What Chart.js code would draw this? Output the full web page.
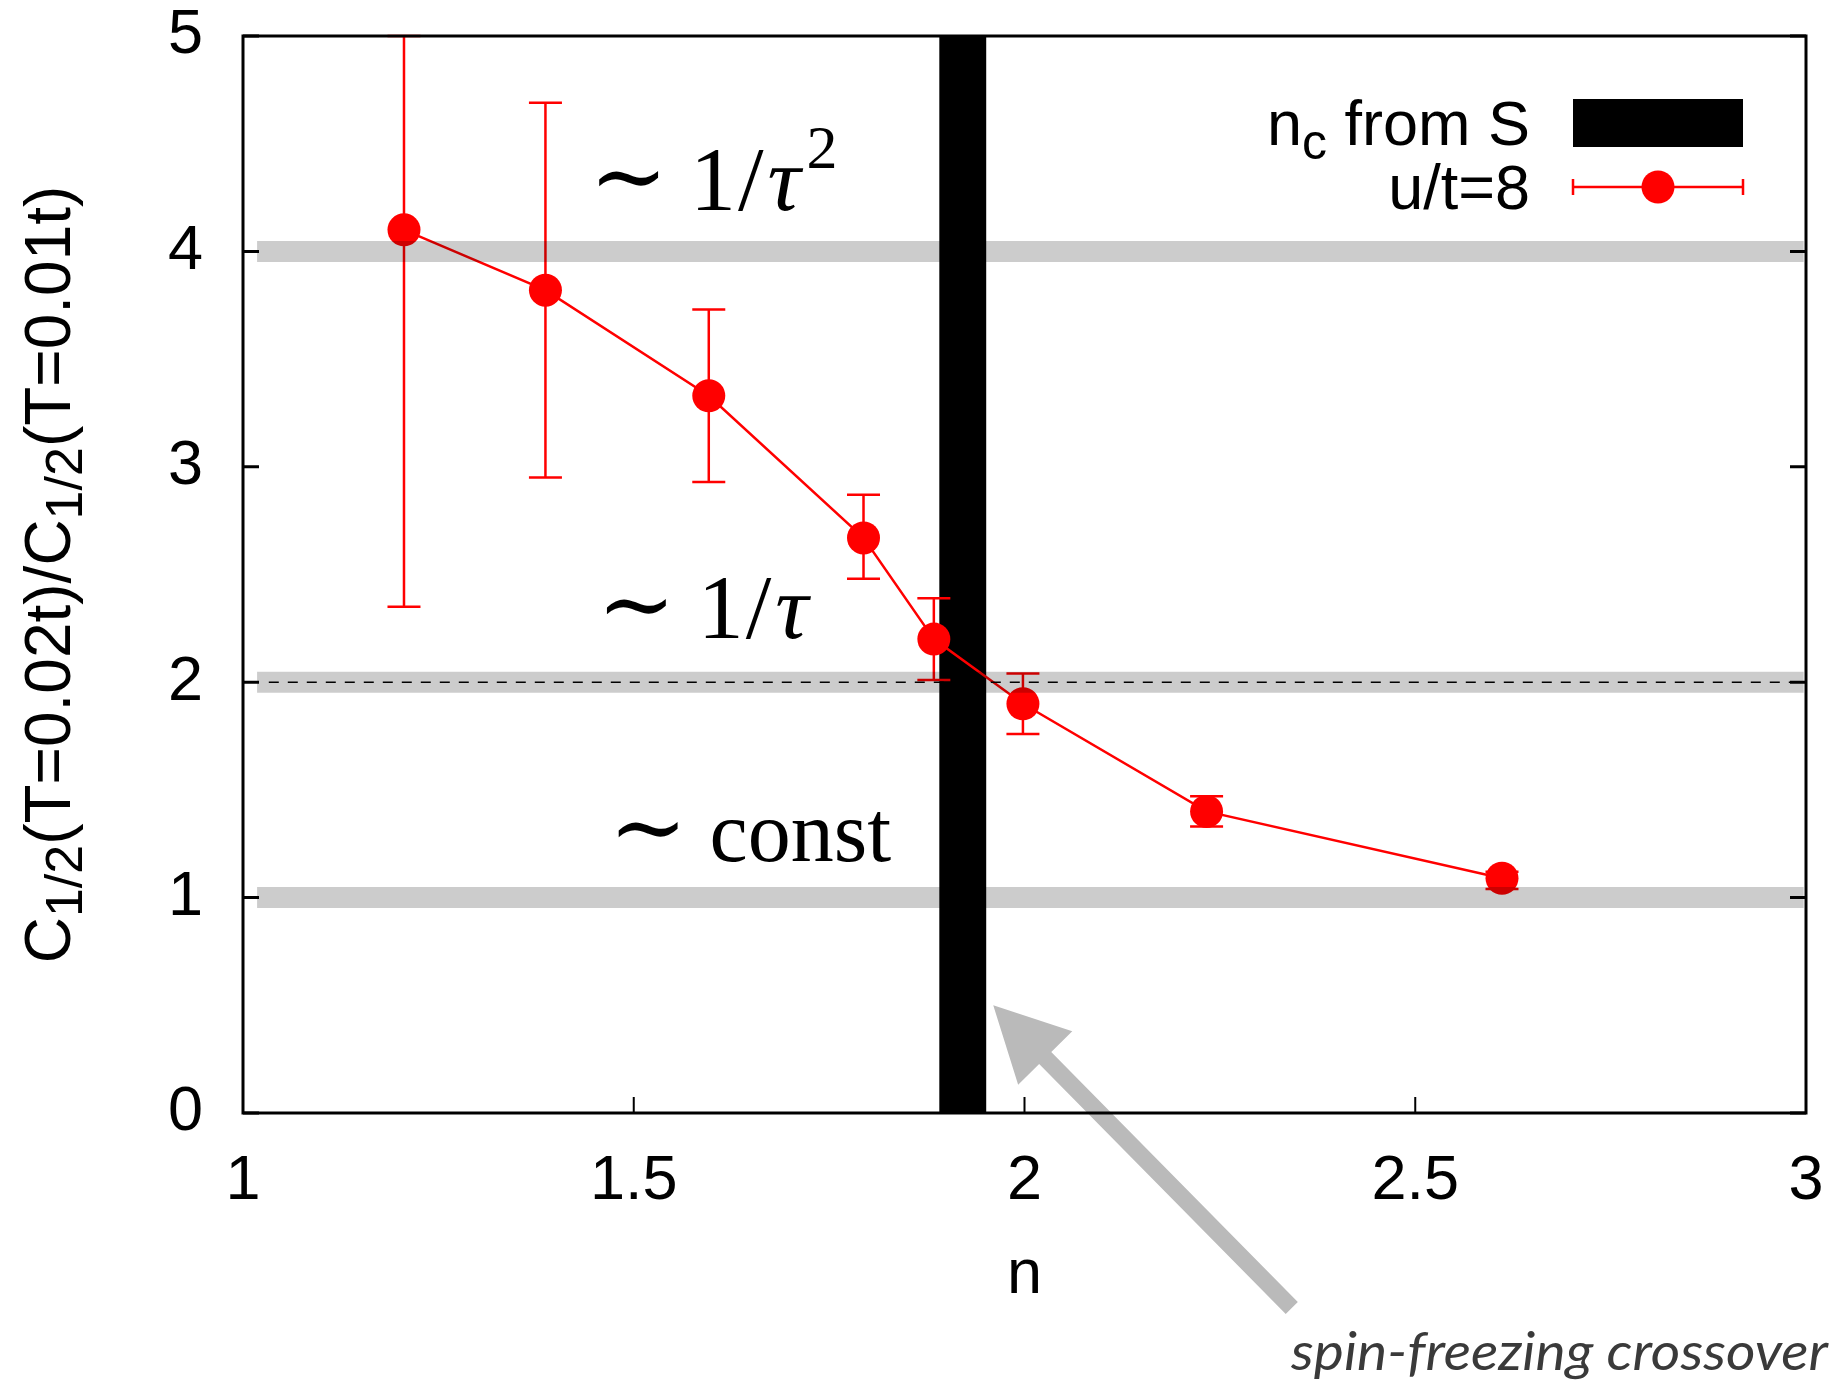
<!DOCTYPE html>
<html>
<head>
<meta charset="utf-8">
<title>C1/2 ratio vs n</title>
<script src="https://cdn.jsdelivr.net/npm/chart.js@4.4.1/dist/chart.umd.min.js"></script>
<style>
  html, body { margin: 0; padding: 0; background: #fff; }
  canvas { display: block; }
</style>
</head>
<body>
<canvas id="chart" width="1837" height="1384"></canvas>
<script>
// data
const fillingN = [1.206, 1.387, 1.596, 1.794, 1.884, 1.998, 2.233, 2.611];
const ratio = [4.10, 3.82, 3.33, 2.67, 2.20, 1.90, 1.40, 1.09];
const ratioLow = [2.35, 2.95, 2.93, 2.48, 2.01, 1.76, 1.33, 1.04];
const ratioHigh = [5.00, 4.69, 3.73, 2.87, 2.39, 2.04, 1.47, 1.12];

const bandLevels = [4, 2, 1];          // ~1/tau^2, ~1/tau, ~const
const bandRange = [1.018, 2.997];
const dashLevel = 2;
const dashRange = [1.033, 2.99];
const crossoverRange = [1.891, 1.951]; // n_c from S

const xTicks = [1, 1.5, 2, 2.5, 3];
const yTicks = [0, 1, 2, 3, 4, 5];

const SANS = '"Liberation Sans", Arial, sans-serif';
const SERIF = '"Liberation Serif", "DejaVu Serif", serif';

function runsWidth(ctx, runs) {
  let w = 0;
  for (const r of runs) {
    ctx.font = r.font;
    w += ctx.measureText(r.text).width + (r.gap || 0);
  }
  return w;
}

function drawRuns(ctx, runs, x, y) {
  let cx = x;
  for (const r of runs) {
    ctx.font = r.font;
    ctx.fillText(r.text, cx, y + (r.dy || 0));
    cx += ctx.measureText(r.text).width + (r.gap || 0);
  }
}

// scales should not push the plot area around
function noPad(s) {
  s.paddingTop = 0; s.paddingBottom = 0; s.paddingLeft = 0; s.paddingRight = 0;
}

// black vertical band, under everything else
const crossoverBar = {
  id: 'crossoverBar',
  beforeDatasetsDraw(chart) {
    const { ctx, chartArea, scales } = chart;
    const x0 = scales.x.getPixelForValue(crossoverRange[0]);
    const x1 = scales.x.getPixelForValue(crossoverRange[1]);
    ctx.save();
    ctx.fillStyle = '#000';
    ctx.fillRect(x0, chartArea.top, x1 - x0, chartArea.bottom - chartArea.top);
    ctx.restore();
  }
};

// error bars drawn just before the red series
const errorBars = {
  id: 'errorBars',
  beforeDatasetDraw(chart, args) {
    if (chart.data.datasets[args.index].label !== 'u/t=8') return;
    const { ctx, chartArea, scales } = chart;
    ctx.save();
    ctx.beginPath();
    ctx.rect(chartArea.left, chartArea.top - 2, chartArea.right - chartArea.left, chartArea.bottom - chartArea.top + 4);
    ctx.clip();
    ctx.strokeStyle = '#ff0000';
    ctx.lineWidth = 2.5;
    const cap = 16.5;
    fillingN.forEach((n, i) => {
      const px = scales.x.getPixelForValue(n);
      const lo = scales.y.getPixelForValue(ratioLow[i]);
      const hi = scales.y.getPixelForValue(ratioHigh[i]);
      ctx.beginPath();
      ctx.moveTo(px, lo); ctx.lineTo(px, hi);
      ctx.moveTo(px - cap, lo); ctx.lineTo(px + cap, lo);
      ctx.moveTo(px - cap, hi); ctx.lineTo(px + cap, hi);
      ctx.stroke();
    });
    ctx.restore();
  }
};

const decorations = {
  id: 'decorations',
  afterDatasetsDraw(chart) {
    const { ctx, chartArea: a, scales } = chart;
    const xs = scales.x, ys = scales.y;
    ctx.save();

    // arrow pointing at the crossover
    const tip = { x: xs.getPixelForValue(1.960), y: ys.getPixelForValue(0.50) };
    const tail = { x: xs.getPixelForValue(2.342), y: ys.getPixelForValue(-0.905) };
    const dx = tail.x - tip.x, dy = tail.y - tip.y;
    const len = Math.hypot(dx, dy);
    const ux = dx / len, uy = dy / len, nx = -uy, ny = ux;
    const headLen = 74, headHalf = 38, shaftHalf = 8.5;
    ctx.fillStyle = '#bababa';
    ctx.beginPath();
    ctx.moveTo(tip.x, tip.y);
    ctx.lineTo(tip.x + ux * headLen + nx * headHalf, tip.y + uy * headLen + ny * headHalf);
    ctx.lineTo(tip.x + ux * headLen + nx * shaftHalf, tip.y + uy * headLen + ny * shaftHalf);
    ctx.lineTo(tail.x + nx * shaftHalf, tail.y + ny * shaftHalf);
    ctx.lineTo(tail.x - nx * shaftHalf, tail.y - ny * shaftHalf);
    ctx.lineTo(tip.x + ux * headLen - nx * shaftHalf, tip.y + uy * headLen - ny * shaftHalf);
    ctx.lineTo(tip.x + ux * headLen - nx * headHalf, tip.y + uy * headLen - ny * headHalf);
    ctx.closePath();
    ctx.fill();

    // frame and inward ticks
    ctx.strokeStyle = '#000';
    ctx.lineWidth = 3;
    ctx.strokeRect(a.left, a.top, a.right - a.left, a.bottom - a.top);
    const tk = 16;
    ctx.beginPath();
    yTicks.forEach(v => {
      const py = ys.getPixelForValue(v);
      ctx.moveTo(a.left, py); ctx.lineTo(a.left + tk, py);
      ctx.moveTo(a.right, py); ctx.lineTo(a.right - tk, py);
    });
    ctx.stroke();
    ctx.lineWidth = 2;
    ctx.beginPath();
    xTicks.forEach(v => {
      const px = xs.getPixelForValue(v);
      ctx.moveTo(px, a.bottom); ctx.lineTo(px, a.bottom - tk);
    });
    ctx.stroke();

    // regime labels
    ctx.fillStyle = '#000';
    ctx.textAlign = 'left';
    ctx.textBaseline = 'alphabetic';
    const tilde = { text: '\u223C', font: '94px "DejaVu Serif", serif', gap: 22, dy: -2 };
    drawRuns(ctx, [tilde,
      { text: '1', font: '92px ' + SERIF, gap: 2 },
      { text: '/', font: '92px ' + SERIF, gap: 4 },
      { text: '\u03C4', font: 'italic 92px ' + SERIF, gap: 6 },
      { text: '2', font: '62px ' + SERIF, dy: -42 }],
      xs.getPixelForValue(1.443), ys.getPixelForValue(4.19));
    drawRuns(ctx, [tilde,
      { text: '1', font: '92px ' + SERIF, gap: 2 },
      { text: '/', font: '92px ' + SERIF, gap: 4 },
      { text: '\u03C4', font: 'italic 92px ' + SERIF }],
      xs.getPixelForValue(1.453), ys.getPixelForValue(2.205));
    drawRuns(ctx, [tilde,
      { text: 'const', font: '86px ' + SERIF }],
      xs.getPixelForValue(1.468), ys.getPixelForValue(1.17));

    // key, top right inside the frame
    const sampleR = a.right - 63, sampleL = sampleR - 170;
    const textR = sampleL - 43;
    const row1 = a.top + 87, row2 = a.top + 151;
    ctx.fillStyle = '#000';
    ctx.fillRect(sampleL, row1 - 24, sampleR - sampleL, 48);
    const key1 = [
      { text: 'n', font: '63px ' + SANS },
      { text: 'c', font: '50px ' + SANS, dy: 14 },
      { text: ' from S', font: '63px ' + SANS }];
    drawRuns(ctx, key1, textR - runsWidth(ctx, key1), row1 + 22);
    const key2 = [{ text: 'u/t=8', font: '63px ' + SANS }];
    drawRuns(ctx, key2, textR - runsWidth(ctx, key2), row2 + 22);
    ctx.strokeStyle = '#ff0000';
    ctx.lineWidth = 2.5;
    ctx.beginPath();
    ctx.moveTo(sampleL, row2); ctx.lineTo(sampleR, row2);
    ctx.moveTo(sampleL, row2 - 8); ctx.lineTo(sampleL, row2 + 8);
    ctx.moveTo(sampleR, row2 - 8); ctx.lineTo(sampleR, row2 + 8);
    ctx.stroke();
    ctx.fillStyle = '#ff0000';
    ctx.beginPath();
    ctx.arc((sampleL + sampleR) / 2, row2, 16.5, 0, Math.PI * 2);
    ctx.fill();

    // axis titles
    ctx.fillStyle = '#000';
    ctx.font = '63px ' + SANS;
    ctx.textAlign = 'center';
    ctx.fillText('n', (a.left + a.right) / 2, a.bottom + 180);
    ctx.textAlign = 'left';
    const ytitle = [
      { text: 'C', font: '64px ' + SANS },
      { text: '1/2', font: '52px ' + SANS, dy: 12 },
      { text: '(T=0.02t)/C', font: '64px ' + SANS },
      { text: '1/2', font: '52px ' + SANS, dy: 12 },
      { text: '(T=0.01t)', font: '64px ' + SANS }];
    ctx.save();
    ctx.translate(70, (a.top + a.bottom) / 2);
    ctx.rotate(-Math.PI / 2);
    drawRuns(ctx, ytitle, -runsWidth(ctx, ytitle) / 2, 0);
    ctx.restore();

    // caption for the arrow
    const cap = 'spin-freezing crossover';
    ctx.font = 'italic 53px Lato, "Open Sans", sans-serif';
    const w = ctx.measureText(cap).width;
    const target = 537;
    ctx.save();
    ctx.translate(chart.width - 9 - target, 1370);
    ctx.scale(target / w, 1);
    ctx.fillStyle = '#3a3a3a';
    ctx.fillText(cap, 0, 0);
    ctx.restore();

    ctx.restore();
  }
};

const datasets = [
  {
    label: 'dashed',
    data: dashRange.map(n => ({ x: n, y: dashLevel })),
    borderColor: '#000',
    borderWidth: 1.6,
    borderDash: [10, 9],
    pointRadius: 0,
    showLine: true,
    order: 0
  },
  ...bandLevels.map(v => ({
    label: 'band ' + v,
    data: bandRange.map(n => ({ x: n, y: v })),
    borderColor: 'rgba(0,0,0,0.2)',
    borderWidth: 21,
    borderCapStyle: 'butt',
    pointRadius: 0,
    showLine: true,
    order: 1
  })),
  {
    label: 'u/t=8',
    data: fillingN.map((n, i) => ({ x: n, y: ratio[i] })),
    borderColor: '#ff0000',
    backgroundColor: '#ff0000',
    borderWidth: 2.5,
    pointRadius: 16.5,
    pointBorderWidth: 0,
    pointBackgroundColor: '#ff0000',
    showLine: true,
    tension: 0,
    order: 2
  }
];

new Chart(document.getElementById('chart'), {
  type: 'scatter',
  data: { datasets },
  options: {
    responsive: false,
    animation: false,
    events: [],
    layout: { autoPadding: false, padding: { left: 0, right: 31, top: 36, bottom: 0 } },
    plugins: { legend: { display: false }, tooltip: { enabled: false } },
    scales: {
      x: {
        type: 'linear',
        min: 1,
        max: 3,
        afterBuildTicks: s => { s.ticks = xTicks.map(v => ({ value: v })); },
        afterFit: s => { s.height = 271; noPad(s); },
        ticks: { font: { family: SANS, size: 63 }, color: '#000', padding: 31, maxRotation: 0, callback: v => String(v) },
        grid: { display: false, drawTicks: false },
        border: { display: false }
      },
      y: {
        type: 'linear',
        min: 0,
        max: 5,
        afterBuildTicks: s => { s.ticks = yTicks.map(v => ({ value: v })); },
        afterFit: s => { s.width = 243; noPad(s); },
        ticks: { font: { family: SANS, size: 63 }, color: '#000', padding: 40, callback: v => String(v) },
        grid: { display: false, drawTicks: false },
        border: { display: false }
      }
    }
  },
  plugins: [crossoverBar, errorBars, decorations]
});
</script>
</body>
</html>
